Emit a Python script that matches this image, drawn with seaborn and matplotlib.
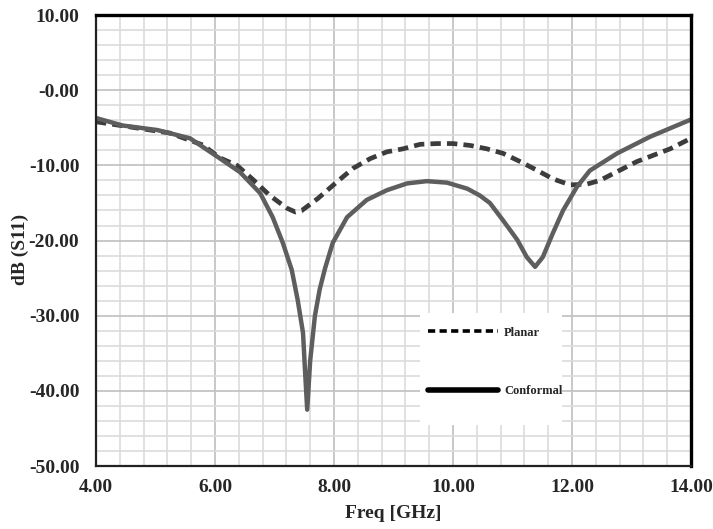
import pandas as pd
import matplotlib
matplotlib.use("Agg")
import matplotlib.pyplot as plt
from matplotlib.lines import Line2D
from matplotlib.patches import Rectangle
from matplotlib.ticker import MultipleLocator, FixedLocator
import seaborn as sns

# Conformal antenna (solid)
conf_freq = [4.0, 4.45, 5.03, 5.58, 6.05, 6.42, 6.76, 6.97, 7.14, 7.29, 7.39,
             7.48, 7.51, 7.55, 7.6, 7.68, 7.76, 7.85, 7.98, 8.22, 8.55, 8.89,
             9.23, 9.56, 9.9, 10.24, 10.45, 10.62, 10.84, 11.08, 11.24, 11.38,
             11.51, 11.68, 11.85, 12.08, 12.3, 12.76, 13.31, 13.7, 14.0]
conf_s11 = [-3.7, -4.7, -5.3, -6.4, -8.9, -10.9, -13.7, -16.9, -20.3, -23.9, -27.9,
            -32.3, -36.8, -42.5, -36.0, -30.0, -26.5, -23.7, -20.3, -16.9, -14.6, -13.3,
            -12.4, -12.1, -12.3, -13.1, -14.0, -15.0, -17.3, -19.9, -22.2, -23.5,
            -22.2, -19.0, -16.0, -12.9, -10.7, -8.4, -6.2, -4.9, -3.9]

# Planar antenna (dashed)
plan_freq = [4.0, 4.5, 5.24, 5.8, 6.08, 6.37, 6.64, 6.92, 7.21, 7.35, 7.46,
             7.73, 8.05, 8.32, 8.61, 8.89, 9.16, 9.45, 9.73, 10.0, 10.29, 10.57,
             10.84, 11.13, 11.4, 11.68, 11.97, 12.25, 12.47, 13.09, 13.65, 14.0]
plan_s11 = [-4.2, -4.8, -5.7, -7.3, -9.0, -10.0, -11.9, -14.0, -15.7, -16.2, -16.0,
            -14.4, -12.2, -10.4, -9.1, -8.2, -7.8, -7.2, -7.1, -7.1, -7.35, -7.8,
            -8.4, -9.5, -10.6, -11.8, -12.6, -12.5, -12.0, -9.5, -7.8, -6.4]

xticks = [4, 6, 8, 10, 12, 14]
xtick_labels = ["4.00", "6.00", "8.00", "10.00", "12.00", "14.00"]
yticks = [10, 0, -10, -20, -30, -40, -50]
ytick_labels = ["10.00", "-0.00", "-10.00", "-20.00", "-30.00", "-40.00", "-50.00"]

sns.set_style("white")
plt.rcParams["font.family"] = ["Liberation Serif", "DejaVu Serif"]
plt.rcParams["font.weight"] = "bold"

conf = pd.DataFrame({"freq": conf_freq, "s11": conf_s11})
plan = pd.DataFrame({"freq": plan_freq, "s11": plan_s11})

fig = plt.figure(figsize=(7.13, 5.29), dpi=100)
ax = fig.add_axes([0.1346, 0.119, 0.8345, 0.8526])

sns.lineplot(data=plan, x="freq", y="s11", ax=ax, sort=False, color="#3c3c3c",
             linewidth=3.4, linestyle=(0, (2.2, 1.3)))
sns.lineplot(data=conf, x="freq", y="s11", ax=ax, sort=False, color="#5e5e5e",
             linewidth=3.2)

ax.set_xlim(4, 14)
ax.set_ylim(-50, 10)
ax.xaxis.set_major_locator(FixedLocator(xticks))
ax.set_xticklabels(xtick_labels)
ax.xaxis.set_minor_locator(MultipleLocator(0.4))
ax.yaxis.set_major_locator(FixedLocator(yticks))
ax.set_yticklabels(ytick_labels)
ax.yaxis.set_minor_locator(MultipleLocator(2))

# grid
ax.grid(which="minor", color="#dcdcdc", linewidth=1.2)
ax.grid(which="major", color="#c4c4c4", linewidth=1.3)
ax.set_axisbelow(True)

ax.tick_params(axis="y", which="major", direction="out", length=10, width=1.6,
               labelsize=14, pad=2)
ax.tick_params(axis="y", which="minor", direction="out", length=7, width=1.4)
ax.tick_params(axis="x", which="major", direction="out", length=6, width=1.4,
               labelsize=14, pad=3)
ax.tick_params(axis="x", which="minor", direction="out", length=4, width=1.2)
for lab in ax.get_xticklabels() + ax.get_yticklabels():
    lab.set_fontweight("bold")

for side in ["left", "bottom"]:
    ax.spines[side].set_linewidth(1.6)
    ax.spines[side].set_color("#222222")
for side in ["top", "right"]:
    ax.spines[side].set_linewidth(2.4)
    ax.spines[side].set_color("black")

ax.set_xlabel("Freq [GHz]", fontsize=14, fontweight="bold", labelpad=7)
ax.set_ylabel("dB (S11)", fontsize=14, fontweight="bold")
ax.yaxis.set_label_coords(-0.113, 0.48)

# white legend panel over the grid
ax.add_patch(Rectangle((0.5445, 0.091), 0.2385, 0.248, transform=ax.transAxes,
                       facecolor="white", edgecolor="none", zorder=3))

handles = [
    Line2D([], [], color="black", linewidth=2.6, linestyle=(0, (2.0, 1.2))),
    Line2D([], [], color="black", linewidth=4.0),
]
leg = ax.legend(handles, ["Planar", "Conformal"], loc="upper left",
                bbox_to_anchor=(0.558, 0.309), frameon=False,
                prop={"family": "Liberation Serif", "weight": "bold", "size": 9},
                handlelength=5.6, handletextpad=0.5, labelspacing=3.7,
                borderpad=0, borderaxespad=0)
leg.set_zorder(4)

fig.savefig("out.png", dpi=100)
